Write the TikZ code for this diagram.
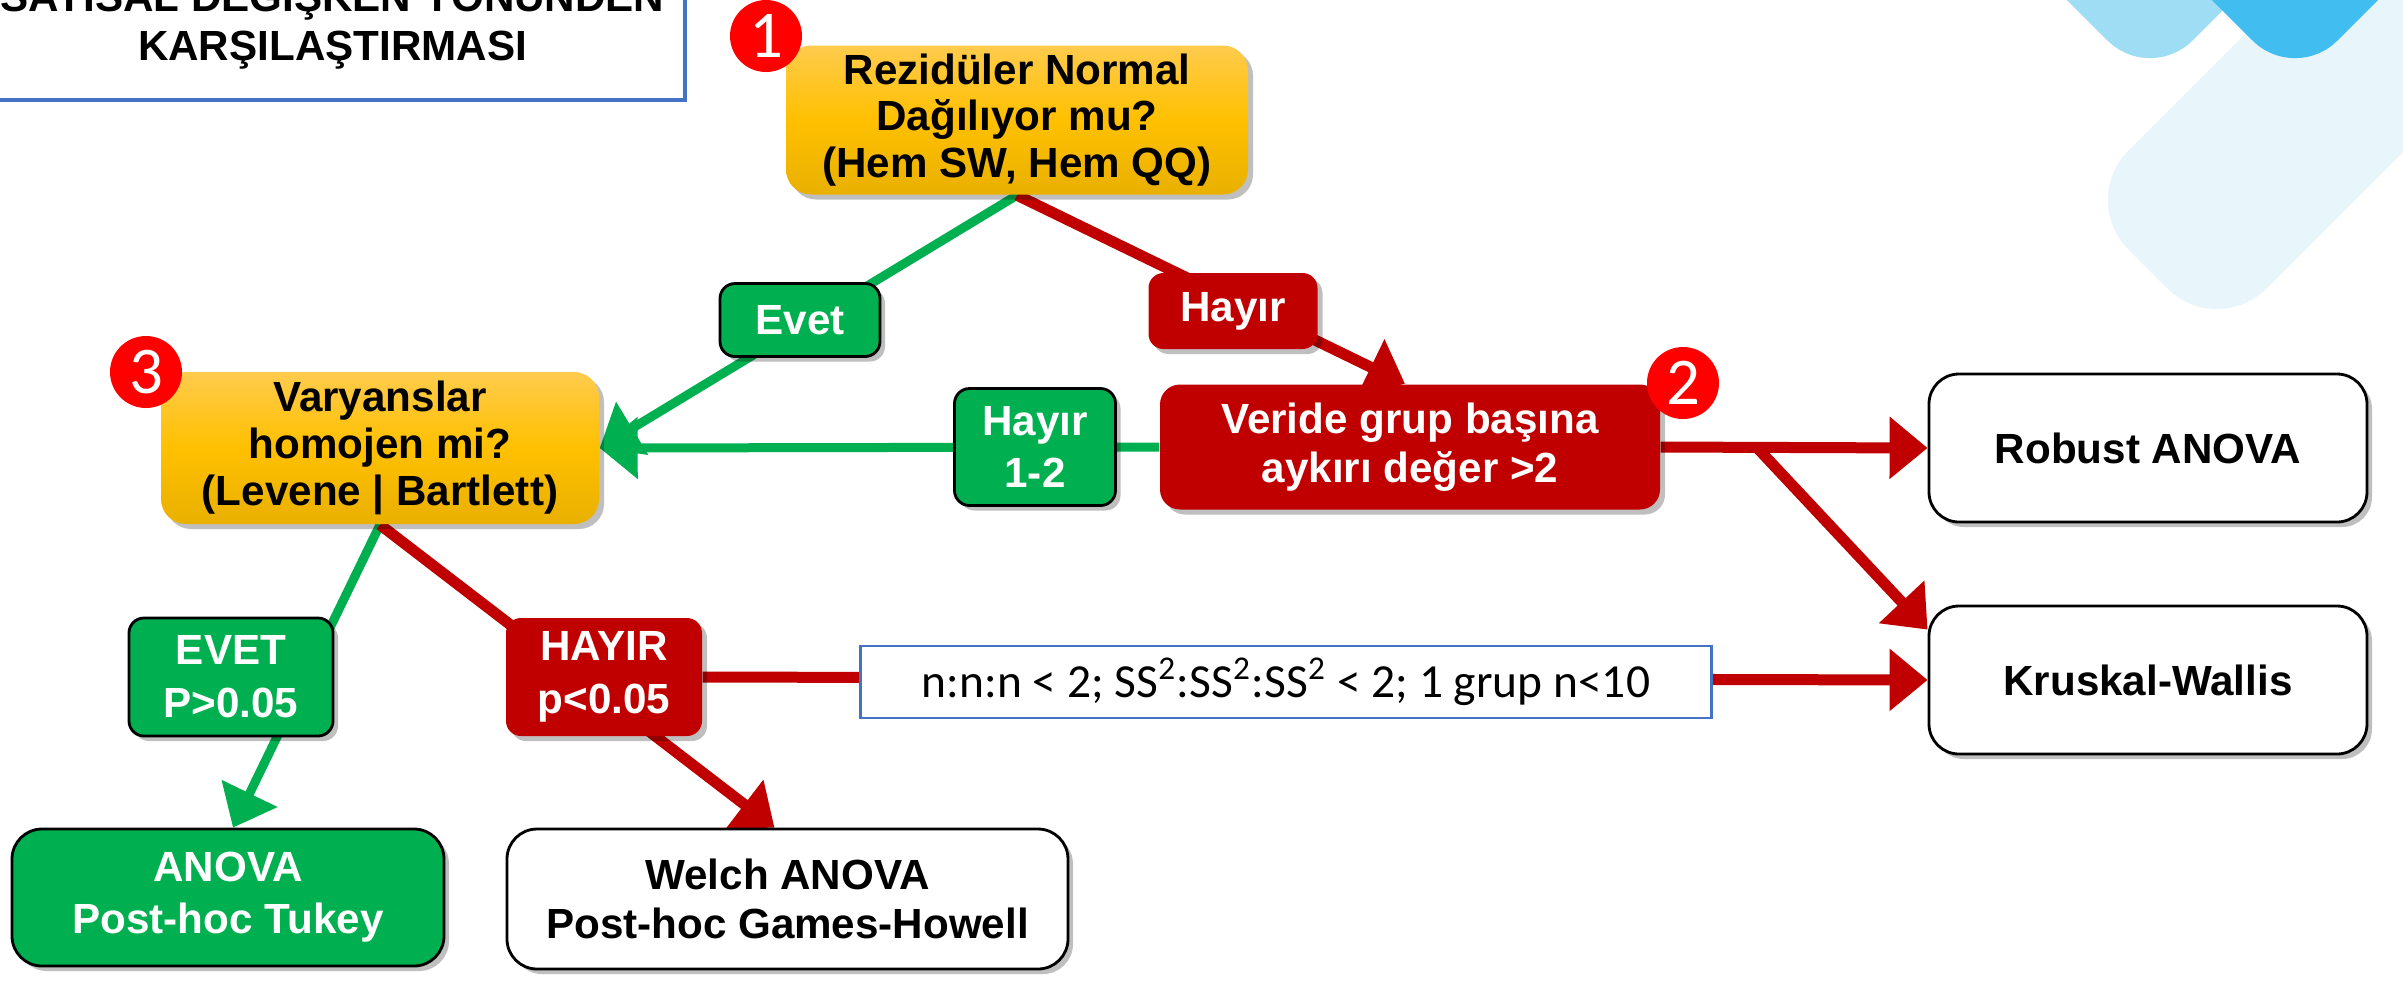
\documentclass[tikz,border=0pt]{standalone}
\usepackage{fontspec}
\setmainfont{Liberation Sans}
\newfontfamily\calfont{Carlito}
\usetikzlibrary{arrows.meta,shadows,backgrounds,calc}

\definecolor{gold0}{HTML}{FFC000}
\definecolor{goldtop}{HTML}{FFCB4D}
\definecolor{goldbot}{HTML}{E9B000}
\definecolor{okgreen}{HTML}{00B050}
\definecolor{nored}{HTML}{C00000}
\definecolor{badgered}{HTML}{FF0000}
\definecolor{frameblue}{HTML}{4472C4}
\definecolor{skyA}{HTML}{9FDDF5}
\definecolor{skyB}{HTML}{41BEEF}
\definecolor{skyC}{HTML}{E8F6FC}

\tikzset{
  boxshadow/.style={drop shadow={shadow xshift=0.05cm,shadow yshift=-0.05cm,opacity=0.25,fill=black}},
  question/.style={rectangle,rounded corners=0.25cm,top color=goldtop,bottom color=goldbot,middle color=gold0,
    boxshadow,align=center,inner sep=0pt,font=\fontsize{12}{13.3}\selectfont\bfseries},
  outlier/.style={rectangle,rounded corners=0.2cm,fill=nored,text=white,boxshadow,align=center,inner sep=0pt,
    font=\fontsize{12}{14}\selectfont\bfseries},
  result/.style={rectangle,rounded corners=0.3cm,draw=black,line width=0.8pt,fill=white,boxshadow,align=center,
    inner sep=0pt,minimum width=4.38cm,minimum height=1.48cm,font=\fontsize{12}{14}\selectfont\bfseries},
  yesbox/.style={result,fill=okgreen,text=white,font=\fontsize{12}{14.8}\selectfont\bfseries},
  yeslabel/.style={rectangle,rounded corners=0.15cm,draw=black,line width=0.8pt,fill=okgreen,text=white,boxshadow,
    align=center,inner sep=0pt,font=\fontsize{12}{15}\selectfont\bfseries},
  nolabel/.style={rectangle,rounded corners=0.15cm,fill=nored,text=white,boxshadow,
    align=center,inner sep=0pt,font=\fontsize{12}{15}\selectfont\bfseries},
  condbox/.style={rectangle,draw=frameblue,line width=0.8pt,fill=white,inner sep=0pt,
    font=\calfont\fontsize{13.5}{15}\selectfont},
  titlebox/.style={rectangle,draw=frameblue,line width=1pt,align=center,inner sep=0pt,
    font=\fontsize{12}{14}\selectfont\bfseries},
  badge/.style={circle,fill=badgered,text=white,inner sep=0pt,minimum size=0.72cm,
    font=\calfont\fontsize{19}{19}\selectfont},
  yesline/.style={draw=okgreen,line width=0.09cm},
  noline/.style={draw=nored,line width=0.11cm},
  tip/.style={-{Triangle[length=0.38cm,width=0.6cm]}}
}

\begin{document}
\begin{tikzpicture}
\useasboundingbox (0,0) rectangle (24.03,-9.83);

% title
\node[titlebox,minimum width=7.05cm,minimum height=1.56cm] (titel) at (3.325,-0.22)
  {SAYISAL DEĞİŞKEN YÖNÜNDEN\\KARŞILAŞTIRMASI};

% questions
\node[question,minimum width=4.62cm,minimum height=1.49cm] (normal) at (10.17,-1.20)
  {Rezidüler Normal\\Dağılıyor mu?\\(Hem SW, Hem QQ)};
\node[question,minimum width=4.38cm,minimum height=1.52cm] (homojen) at (3.80,-4.48)
  {Varyanslar\\homojen mi?\\(Levene | Bartlett)};
\node[outlier,minimum width=5.00cm,minimum height=1.25cm] (aykiri) at (14.10,-4.47)
  {Veride grup başına\\aykırı değer >2};

% outcomes
\node[result] (robust) at (21.48,-4.48) {Robust ANOVA};
\node[result] (kruskal) at (21.48,-6.80) {Kruskal-Wallis};
\node[yesbox,minimum width=4.32cm,minimum height=1.37cm] (anova) at (2.28,-8.975)
  {ANOVA\\Post-hoc Tukey};
\node[result,minimum width=5.61cm,minimum height=1.40cm] (welch) at (7.875,-8.99)
  {Welch ANOVA\\Post-hoc Games-Howell};

% answers
\node[yeslabel,minimum width=1.60cm,minimum height=0.73cm] (evet) at (8.00,-3.20) {Evet};
\node[nolabel,minimum width=1.69cm,minimum height=0.76cm] (hayir) at (12.33,-3.11) {Hayır};
\node[yeslabel,minimum width=1.61cm,minimum height=1.17cm] (hayir12) at (10.35,-4.47) {Hayır\\1-2};
\node[yeslabel,minimum width=2.04cm,minimum height=1.18cm] (evetP) at (2.31,-6.77) {EVET\\P>0.05};
\node[nolabel,minimum width=1.96cm,minimum height=1.18cm] (hayirP) at (6.04,-6.77) {HAYIR\\p<0.05};
\node[condbox,minimum width=8.51cm,minimum height=0.72cm] (kosul) at (12.86,-6.82)
  {n:n:n < 2; SS\textsuperscript{2}:SS\textsuperscript{2}:SS\textsuperscript{2} < 2; 1 grup n<10};

\foreach \n/\x/\y in {1/7.66/-0.36, 2/16.83/-3.83, 3/1.46/-3.72}
  \node[badge] (badge\n) at (\x,\y) {\n};

\begin{scope}[on background layer]
  \fill[white] (0,0) rectangle (24.03,-9.83);
  % corner decoration
  \fill[skyC,rounded corners=0.7cm] (23.79,1.0) -- (20.79,-2.0) -- (22.17,-3.38) -- (26.55,1.0) -- cycle;
  \fill[skyA,rounded corners=0.6cm] (19.17,1.5) -- (21.50,-0.83) -- (23.83,1.5) -- cycle;
  \fill[skyB,rounded corners=0.6cm] (20.62,1.5) -- (22.95,-0.83) -- (25.28,1.5) -- cycle;

  \draw[yesline,tip] (normal.south) -- (homojen.east);
  \draw[noline,tip] (normal.south) -- ([xshift=-0.05cm]aykiri.north);
  \draw[yesline,tip] (aykiri.west) -- (homojen.east);
  \draw[noline,tip] (aykiri.east) -- (robust.west);
  \coordinate (split) at ($(aykiri.east)!0.36!(robust.west)$);
  \draw[noline,tip] (split) -- ([yshift=-0.25cm]kruskal.north west);
  \draw[yesline,tip] (homojen.south) -- ([xshift=0.05cm]anova.north);
  \draw[noline,tip] (homojen.south) -- ([xshift=-0.13cm]welch.north);
  \draw[noline,tip] (hayirP.east) -- (kruskal.west);
\end{scope}
\end{tikzpicture}
\end{document}
